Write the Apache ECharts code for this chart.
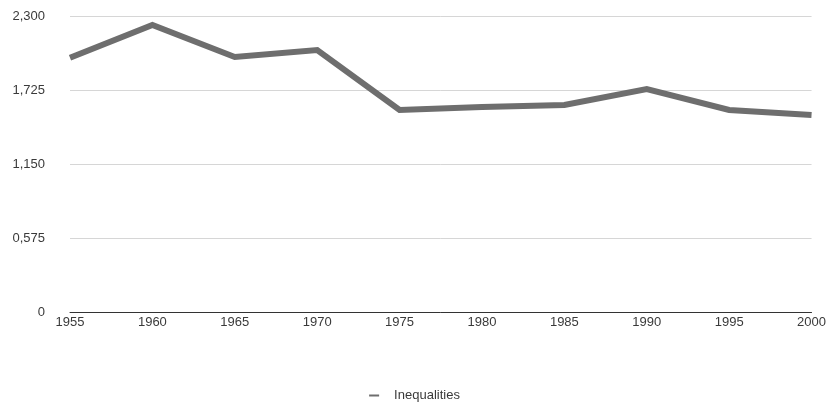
<!DOCTYPE html>
<html>
<head>
<meta charset="utf-8">
<style>
  html, body { margin: 0; padding: 0; background: #fff; }
  #chart { width: 829px; height: 407px; }
</style>
<script src="https://cdn.jsdelivr.net/npm/echarts@6/dist/echarts.min.js"></script>
</head>
<body>
<div id="chart"></div>
<script>
// Years along the x axis
const years = ['1955', '1960', '1965', '1970', '1975', '1980', '1985', '1990', '1995', '2000'];
// Inequality index per year
const inequalities = [1975, 2230, 1981, 2036, 1570, 1593, 1608, 1733, 1570, 1531];
// Y axis tick values and their printed labels
const yTicks = [0, 575, 1150, 1725, 2300];
const yTickLabels = ['0', '0,575', '1,150', '1,725', '2,300'];

const chart = echarts.init(document.getElementById('chart'));
chart.setOption({
  animation: false,
  grid: { left: 70, right: 17, top: 16, bottom: 95 },
  xAxis: {
    type: 'category',
    data: years,
    boundaryGap: false,
    axisLine: { lineStyle: { color: '#333', width: 1 } },
    axisTick: { show: false },
    axisLabel: { color: '#3a3a3a', fontSize: 13, fontFamily: 'Liberation Sans', margin: 4 }
  },
  yAxis: {
    type: 'value',
    min: yTicks[0],
    max: yTicks[yTicks.length - 1],
    interval: yTicks[1] - yTicks[0],
    axisLine: { show: false },
    axisTick: { show: false },
    axisLabel: {
      color: '#3a3a3a', fontSize: 13, fontFamily: 'Liberation Sans', margin: 25,
      formatter: v => yTickLabels[yTicks.indexOf(v)] ?? ''
    },
    splitLine: { lineStyle: { color: '#d6d6d6', width: 1 } }
  },
  legend: {
    bottom: 0,
    left: 'center',
    icon: 'rect',
    itemWidth: 10,
    itemHeight: 2,
    itemGap: 10,
    textStyle: { color: '#3a3a3a', fontSize: 13, fontFamily: 'Liberation Sans', padding: [0, 0, 0, 10] },
    data: ['Inequalities']
  },
  series: [{
    name: 'Inequalities',
    type: 'line',
    data: inequalities,
    symbol: 'none',
    lineStyle: { color: '#6e6e6e', width: 6, join: 'miter' },
    itemStyle: { color: '#6e6e6e' }
  }]
});
</script>
</body>
</html>
